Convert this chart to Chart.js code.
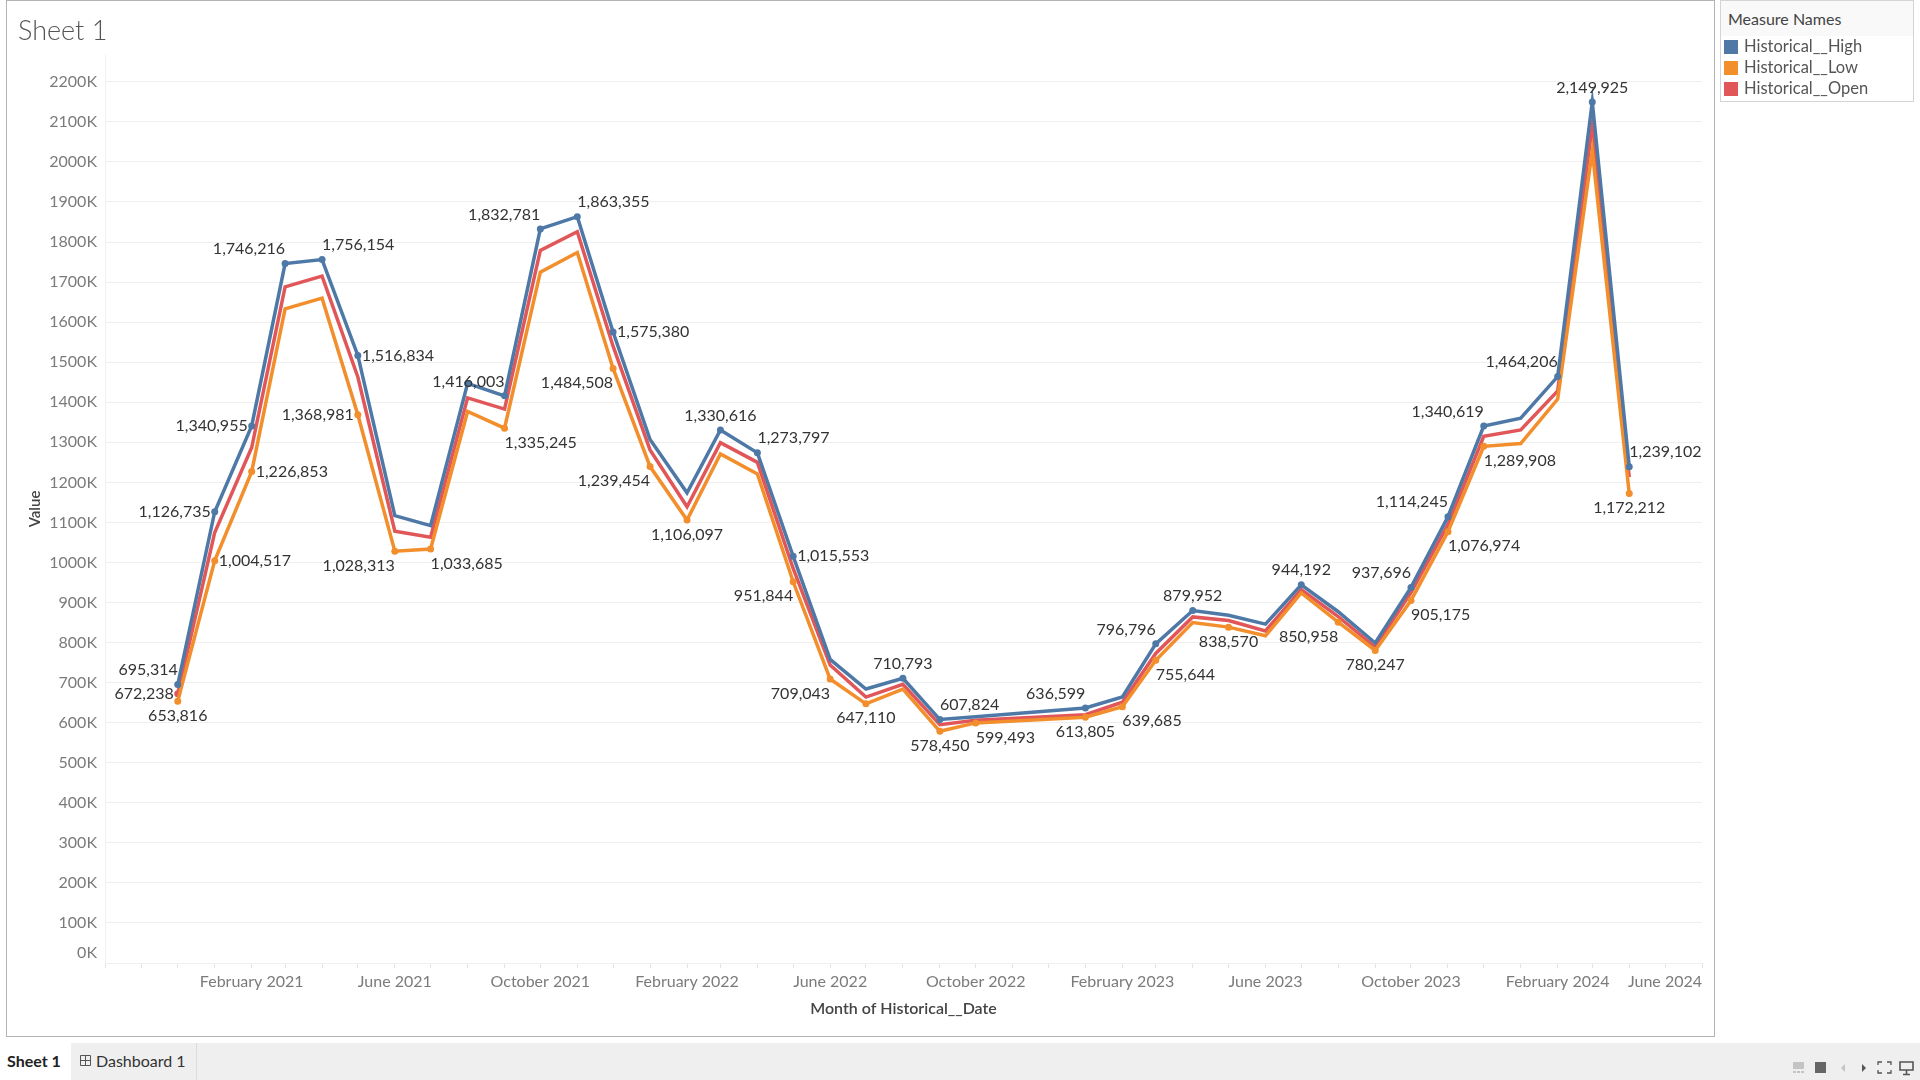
<!DOCTYPE html>
<html>
<head>
<meta charset="utf-8">
<title>Sheet 1</title>
<script src="https://cdn.jsdelivr.net/npm/chart.js@4"></script>
<style>
  html, body { margin: 0; padding: 0; background: #fff; }
  body { width: 1920px; height: 1080px; position: relative; overflow: hidden; font-family: Lato, sans-serif; }
  #chart-canvas { position: absolute; left: 0; top: 0; }
  .pane { position: absolute; left: 6px; top: 0; width: 1707px; height: 1035px; border: 1px solid #b4b4b4; pointer-events: none; }
  .sheet-title { position: absolute; left: 18px; top: 13px; font-size: 27px; line-height: 34px; font-weight: 300; color: #555; }
  .legend { position: absolute; left: 1720px; top: 0; width: 192px; height: 100px; border: 1px solid #d4d4d4; color: #555; font-size: 16.5px; }
  .legend-head { height: 35px; line-height: 35px; padding-left: 7px; background: #f9f9f9; color: #444; font-size: 16px; }
  .legend-row { position: absolute; left: 3px; height: 14px; line-height: 12px; padding-left: 20px; white-space: nowrap; }
  .legend-row i { position: absolute; left: 0; top: 0; width: 14px; height: 14px; }
  .tabbar { position: absolute; left: 0; top: 1043px; width: 1920px; height: 37px; background: #efefef; }
  .tab { position: absolute; top: 0; height: 37px; line-height: 36px; font-size: 16px; color: #333; box-sizing: border-box; }
  .tab.active { left: 0; width: 71px; background: #fff; padding-left: 7px; font-weight: 700; color: #222; }
  .tab.other { left: 71px; width: 126px; padding-left: 25px; border-right: 1px solid #dcdcdc; }
  .tab svg { position: absolute; left: 9px; top: 12px; }
  .tools { position: absolute; left: 1790px; top: 1060px; }
</style>
</head>
<body>
<canvas id="chart-canvas" width="1920" height="1080"></canvas>
<div class="pane"></div>
<div class="sheet-title">Sheet 1</div>
<div class="legend">
  <div class="legend-head">Measure Names</div>
  <div class="legend-row" style="top:39px"><i style="background:#4e79a7"></i>Historical__High</div>
  <div class="legend-row" style="top:60px"><i style="background:#f28e2b"></i>Historical__Low</div>
  <div class="legend-row" style="top:81px"><i style="background:#e15759"></i>Historical__Open</div>
</div>
<div class="tabbar">
  <div class="tab active">Sheet 1</div>
  <div class="tab other">
    <svg width="12" height="12" viewBox="0 0 12 12" fill="none" stroke="#555"><path d="M.5.5h10v10H.5zM5.5.5v10M.5 5.5h10"/></svg>
    Dashboard 1
  </div>
</div>
<svg class="tools" width="126" height="16" viewBox="0 0 126 16">
  <rect x="3" y="2" width="11" height="7" fill="#c4c4c4"/>
  <path d="M3 11h3v2H3zM7 11h3v2H7zM11 11h3v2h-3z" fill="#c4c4c4"/>
  <rect x="25" y="2" width="11" height="11" fill="#666"/>
  <path d="M55 4v8l-4-4z" fill="#c4c4c4"/>
  <path d="M72 4v8l4-4z" fill="#555"/>
  <path d="M88 5V2h4M97 2h4v3M101 10v3h-4M92 13h-4v-3" fill="none" stroke="#555" stroke-width="1.3"/>
  <path d="M110 2h13v8h-13zM116.500 10v4M113 14.500h7" fill="none" stroke="#555" stroke-width="1.6"/>
</svg>

<script>
// months that have a mark (Nov and Dec 2022 have none in the view)
const months = ['2020-12',
  '2021-01','2021-02','2021-03','2021-04','2021-05','2021-06','2021-07','2021-08','2021-09','2021-10','2021-11','2021-12',
  '2022-01','2022-02','2022-03','2022-04','2022-05','2022-06','2022-07','2022-08','2022-09','2022-10',
  '2023-01','2023-02','2023-03','2023-04','2023-05','2023-06','2023-07','2023-08','2023-09','2023-10','2023-11','2023-12',
  '2024-01','2024-02','2024-03','2024-04']

const highValues = [695314,
  1126735,1340955,1746216,1756154,1516834,1117000,1092000,1447000,1416003,1832781,1863355,1575380,
  1307000,1174000,1330616,1273797,1015553,758000,684000,710793,607824,615000,
  636599,664000,796796,879952,868000,846000,944192,877000,799000,937696,1114245,1340619,
  1360000,1464206,2149925,1239102]

const lowValues = [653816,
  1004517,1226853,1633000,1660000,1368981,1028313,1033685,1377000,1335245,1725000,1774000,1484508,
  1239454,1106097,1271000,1221000,951844,709043,647110,684000,578450,599493,
  613805,639685,755644,850000,838570,817000,924000,850958,780247,905175,1076974,1289908,
  1297000,1408000,2028000,1172212]

const openValues = [672238,
  1075000,1287000,1688000,1715000,1463000,1078000,1063000,1411000,1383000,1779000,1826000,1540000,
  1281000,1139000,1299000,1250000,985000,744000,664000,696000,595000,606000,
  620000,651000,773000,864000,855000,829000,932000,865000,789000,925000,1095000,1315000,
  1331000,1428000,2090000,1213000]

const tickMonths = ['2020-10','2020-11','2020-12',
  '2021-01','2021-02','2021-03','2021-04','2021-05','2021-06','2021-07','2021-08','2021-09','2021-10','2021-11','2021-12',
  '2022-01','2022-02','2022-03','2022-04','2022-05','2022-06','2022-07','2022-08','2022-09','2022-10','2022-11','2022-12',
  '2023-01','2023-02','2023-03','2023-04','2023-05','2023-06','2023-07','2023-08','2023-09','2023-10','2023-11','2023-12',
  '2024-01','2024-02','2024-03','2024-04','2024-05','2024-06']

const xTickLabels = {
  '2021-02': 'February 2021', '2021-06': 'June 2021', '2021-10': 'October 2021',
  '2022-02': 'February 2022', '2022-06': 'June 2022', '2022-10': 'October 2022',
  '2023-02': 'February 2023', '2023-06': 'June 2023', '2023-10': 'October 2023',
  '2024-02': 'February 2024'
}
const lastTickLabel = 'June 2024'

const yTicks = [0,100000,200000,300000,400000,500000,600000,700000,800000,900000,1000000,1100000,
  1200000,1300000,1400000,1500000,1600000,1700000,1800000,1900000,2000000,2100000,2200000]

// where each value label sits around its mark
const highLabels = {
  '2020-12':'upLeft', '2021-01':'left', '2021-02':'left', '2021-03':'upLeft', '2021-04':'upRight', '2021-05':'right',
  '2021-09':'upLeft', '2021-10':'upLeft', '2021-11':'upRight', '2021-12':'right', '2022-03':'above', '2022-04':'upRight',
  '2022-05':'right', '2022-08':'above', '2022-09':'upRight', '2023-01':'upLeft', '2023-03':'upLeft', '2023-04':'above',
  '2023-07':'above', '2023-10':'upLeft', '2023-11':'upLeft', '2023-12':'upLeft', '2024-02':'upLeft', '2024-03':'above',
  '2024-04':'upRight'
}
const lowLabels = {
  '2020-12':'below', '2021-01':'right', '2021-02':'right', '2021-05':'left', '2021-06':'downLeft', '2021-07':'downRight',
  '2021-09':'downRight', '2021-12':'downLeft', '2022-01':'downLeft', '2022-02':'below', '2022-05':'downLeft', '2022-06':'downLeft',
  '2022-07':'below', '2022-09':'below', '2022-10':'downRight', '2023-01':'below', '2023-02':'downRight', '2023-03':'downRight',
  '2023-05':'below', '2023-08':'downLeft', '2023-09':'below', '2023-10':'downRight', '2023-11':'downRight', '2023-12':'downRight',
  '2024-04':'below'
}
const openLabels = { '2020-12':'left' }

// Aug 2021 has a mark on the high line but its label got dropped
const extraHighMarks = ['2021-08']

const toTime = m => Date.UTC(+m.slice(0, 4), +m.slice(5) - 1, 1)

const makeData = values => values.map((v, i) => ({ x: toTime(months[i]), y: v }))
const makeRadius = (labels, extra = []) => months.map(m => (labels[m] || extra.includes(m)) ? 3.5 : 0)

const LABEL_FONT = '16px Lato'
const AXIS_COLOR = '#7b7b7b'

function labelPos(anchor, x, y) {
  switch (anchor) {
    case 'left': return [x - 4, y, 'right']
    case 'right': return [x + 4, y, 'left']
    case 'above': return [x, y - 14.5, 'center']
    case 'below': return [x, y + 14.5, 'center']
    case 'upLeft': return [x, y - 14.5, 'right']
    case 'upRight': return [x, y - 14.5, 'left']
    case 'downLeft': return [x, y + 14.5, 'right']
    default: return [x, y + 14.5, 'left']
  }
}

const valueLabels = {
  id: 'valueLabels',
  afterDatasetsDraw(chart) {
    const ctx = chart.ctx
    const tables = [highLabels, lowLabels, openLabels]
    ctx.save()
    ctx.font = LABEL_FONT
    ctx.fillStyle = '#333'
    ctx.textBaseline = 'middle'
    tables.forEach((table, d) => {
      const points = chart.getDatasetMeta(d).data
      months.forEach((m, i) => {
        if (!table[m]) return
        const [lx, ly, align] = labelPos(table[m], points[i].x, points[i].y)
        ctx.textAlign = align
        ctx.fillText(chart.data.datasets[d].data[i].y.toLocaleString('en-US'), lx, ly)
      })
    })
    ctx.restore()
  }
}

// the two tick labels Tableau nudges to keep inside the view
const edgeTicks = {
  id: 'edgeTicks',
  afterDraw(chart) {
    const ctx = chart.ctx
    const { x, y } = chart.scales
    ctx.save()
    ctx.font = '16px Lato'
    ctx.fillStyle = AXIS_COLOR
    ctx.textBaseline = 'middle'
    ctx.textAlign = 'right'
    ctx.fillText('0K', 97, y.getPixelForValue(0) - 10.5)
    ctx.fillText(lastTickLabel, x.getPixelForValue(toTime('2024-06')), 982)
    ctx.restore()
  }
}

new Chart(document.querySelector('#chart-canvas'), {
  type: 'line',
  data: {
    datasets: [
      { label: 'Historical__High', data: makeData(highValues), borderColor: '#4e79a7', backgroundColor: '#4e79a7', pointRadius: makeRadius(highLabels, extraHighMarks) },
      { label: 'Historical__Low', data: makeData(lowValues), borderColor: '#f28e2b', backgroundColor: '#f28e2b', pointRadius: makeRadius(lowLabels) },
      { label: 'Historical__Open', data: makeData(openValues), borderColor: '#e15759', backgroundColor: '#e15759', pointRadius: makeRadius(openLabels) }
    ]
  },
  plugins: [valueLabels, edgeTicks],
  options: {
    responsive: false,
    animation: false,
    layout: { padding: { left: 0, top: 55, right: 218, bottom: 0 } },
    elements: { line: { borderWidth: 3.5, tension: 0 }, point: { borderWidth: 0, hoverRadius: 3.5 } },
    plugins: { legend: { display: false }, tooltip: { enabled: false } },
    scales: {
      x: {
        type: 'linear',
        min: toTime('2020-10'),
        max: toTime('2024-06'),
        afterBuildTicks(scale) { scale.ticks = tickMonths.map(m => ({ value: toTime(m) })) },
        afterFit(scale) { scale.height = 117 },
        grid: { drawOnChartArea: false, drawTicks: true, tickLength: 5, tickColor: '#e4e4e4' },
        border: { display: false },
        ticks: {
          autoSkip: false,
          maxRotation: 0,
          padding: 4,
          color: AXIS_COLOR,
          font: { family: 'Lato', size: 16 },
          callback(value) {
            const key = tickMonths.find(m => toTime(m) === value)
            return xTickLabels[key] || ''
          }
        },
        title: {
          display: true,
          text: 'Month of Historical__Date',
          color: '#444',
          font: { family: 'Lato', size: 16, weight: '600' },
          padding: { top: 0, bottom: 62 }
        }
      },
      y: {
        min: 0,
        max: 2267000,
        afterBuildTicks(scale) { scale.ticks = yTicks.map(v => ({ value: v })) },
        afterFit(scale) { scale.width = 105 },
        grid: { color: '#efefef', drawTicks: false },
        border: { color: '#f0f0f0' },
        ticks: {
          padding: 8,
          color: AXIS_COLOR,
          font: { family: 'Lato', size: 16 },
          callback: value => value === 0 ? '' : value / 1000 + 'K'
        },
        title: {
          display: true,
          text: 'Value',
          color: '#444',
          font: { family: 'Lato', size: 15, weight: '600' },
          padding: { top: 26, bottom: 0 }
        }
      }
    }
  }
})
</script>
</body>
</html>
